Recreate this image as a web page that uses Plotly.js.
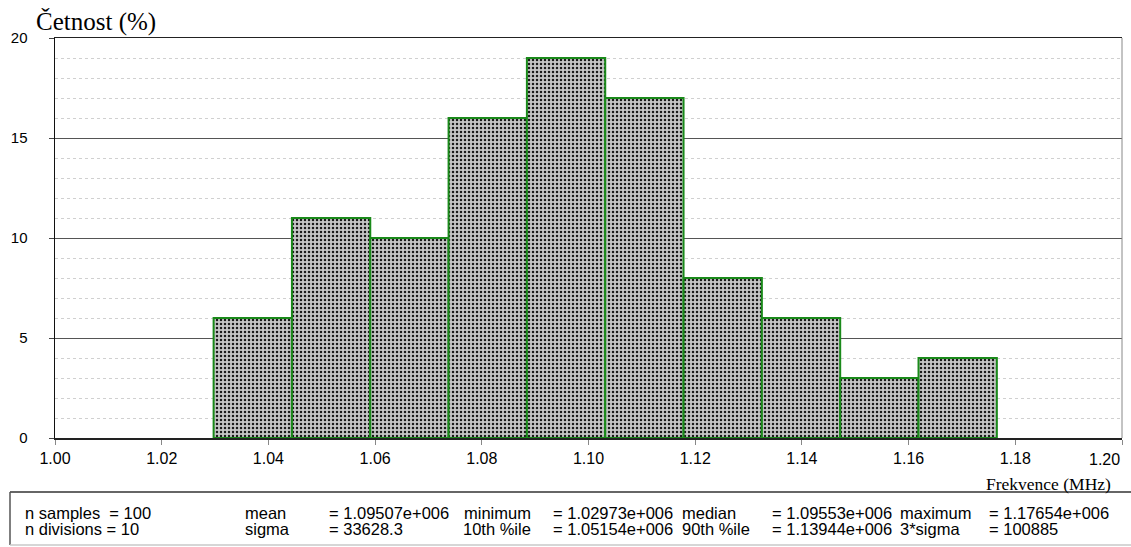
<!DOCTYPE html>
<html>
<head>
<meta charset="utf-8">
<script src="https://cdn.plot.ly/plotly-3.0.1.min.js"></script>
<style>html,body{margin:0;padding:0;background:#fff;}#chart{width:1131px;height:547px;}</style>
</head>
<body>
<div id="chart"></div>
<script>
// ---- data ----
const binMinimum = 1.02973;   // MHz
const binMaximum = 1.17654;   // MHz
const nDivisions = 10;
const percentages = [6, 11, 10, 16, 19, 17, 8, 6, 3, 4];
const xTickValues = [1.00, 1.02, 1.04, 1.06, 1.08, 1.10, 1.12, 1.14, 1.16, 1.18, 1.20];
const xTickLabels = ["1.00", "1.02", "1.04", "1.06", "1.08", "1.10", "1.12", "1.14", "1.16", "1.18", "1.20"];
const yTickValues = [0, 5, 10, 15, 20];
const statsLabelsA = ["n samples  = 100", "n divisions = 10"];
const statsNames1 = ["mean", "sigma"];
const statsValues1 = ["= 1.09507e+006", "= 33628.3"];
const statsNames2 = ["minimum", "10th %ile"];
const statsValues2 = ["= 1.02973e+006", "= 1.05154e+006"];
const statsNames3 = ["median", "90th %ile"];
const statsValues3 = ["= 1.09553e+006", "= 1.13944e+006"];
const statsNames4 = ["maximum", "3*sigma"];
const statsValues4 = ["= 1.17654e+006", "= 100885"];
const yTitle = "Četnost (%)";
const xTitle = "Frekvence (MHz)";

// ---- derived bin geometry ----
const binWidth = (binMaximum - binMinimum) / nDivisions;
const binCenters = percentages.map((_, i) => binMinimum + binWidth * (i + 0.5));

// ---- layout helpers (pixel -> paper) ----
const W = 1131, H = 547, ML = 55, MR = 9, MT = 38, MB = 109;
const PW = W - ML - MR, PH = H - MT - MB;
const px = p => (p - ML) / PW;
const py = p => (H - MB - p) / PH;

const sans = "Liberation Sans, Arial, sans-serif";
const serif = "Liberation Serif, Times New Roman, serif";

const trace = {
  type: "bar",
  x: binCenters,
  y: percentages,
  width: binCenters.map(() => binWidth),
  marker: {
    color: "#c0c0c0",
    pattern: {shape: ".", size: 4, solidity: 0.3, fgcolor: "#1a1a1a", bgcolor: "#c6c6c6", fillmode: "replace"},
    line: {color: "#1a8a1a", width: 2}
  },
  hoverinfo: "x+y"
};

const annotations = [];
function txt(text, x, y, anchor, font) {
  annotations.push({text: text, xref: "paper", yref: "paper", x: px(x), y: py(y),
    xanchor: anchor, yanchor: "middle", showarrow: false, font: font});
}
const sf = {family: sans, size: 16.5, color: "#000"};
const rowY = [512.5, 528.5];
for (let r = 0; r < 2; r++) {
  txt(statsLabelsA[r], 23, rowY[r], "left", sf);
  txt(statsNames1[r], 243, rowY[r], "left", sf);
  txt(statsValues1[r], 327, rowY[r], "left", sf);
  txt(statsNames2[r], 533, rowY[r], "right", sf);
  txt(statsValues2[r], 551, rowY[r], "left", sf);
  txt(statsNames3[r], 680, rowY[r], "left", sf);
  txt(statsValues3[r], 770, rowY[r], "left", sf);
  txt(statsNames4[r], 898, rowY[r], "left", sf);
  txt(statsValues4[r], 987, rowY[r], "left", sf);
}
// titles
txt(yTitle, 34, 22, "left", {family: serif, size: 25, color: "#000"});
txt(xTitle, 1113, 484, "right", {family: serif, size: 17.5, color: "#000"});
// last x tick label kept inside the window
annotations.push({text: xTickLabels[xTickLabels.length - 1], xref: "x", yref: "paper",
  x: xTickValues[xTickValues.length - 1], y: py(459), xanchor: "right", yanchor: "middle",
  showarrow: false, font: {family: sans, size: 16, color: "#000"}});

const shapes = [
  {type: "line", xref: "paper", yref: "paper", x0: 1, x1: 1, y0: 0, y1: 1, line: {color: "#888", width: 1}},
  {type: "line", xref: "paper", yref: "paper", x0: px(10), x1: px(1131), y0: py(492), y1: py(492), line: {color: "#333", width: 1.5}},
  {type: "line", xref: "paper", yref: "paper", x0: px(10), x1: px(10), y0: py(492), y1: py(545), line: {color: "#555", width: 1.5}},
  {type: "line", xref: "paper", yref: "paper", x0: px(10), x1: px(1131), y0: py(545), y1: py(545), line: {color: "#c8c8c8", width: 1.5}}
];

const layout = {
  width: W, height: H,
  margin: {l: ML, r: MR, t: MT, b: MB, pad: 0},
  paper_bgcolor: "#fff", plot_bgcolor: "#fff",
  showlegend: false,
  bargap: 0,
  xaxis: {
    range: [1.00, 1.20],
    tickmode: "array",
    tickvals: xTickValues,
    ticktext: xTickLabels.map((t, i) => i === xTickLabels.length - 1 ? "" : t),
    ticks: "outside", ticklen: 5, tickcolor: "#888", tickwidth: 1,
    showgrid: false, zeroline: false,
    showline: true, linecolor: "#222", linewidth: 1.5, mirror: true,
    tickfont: {family: sans, size: 16, color: "#000"},
    fixedrange: true
  },
  yaxis: {
    range: [0, 20],
    tickmode: "array",
    tickvals: yTickValues,
    ticks: "outside", ticklen: 5, tickcolor: "#444", tickwidth: 1,
    ticklabelstandoff: 18,
    showgrid: true, gridcolor: "#555", gridwidth: 1,
    minor: {dtick: 1, tick0: 0, showgrid: true, gridcolor: "#d0d0d0", griddash: "dot", gridwidth: 1, ticks: ""},
    zeroline: false,
    showline: true, linecolor: "#111", linewidth: 1.5,
    tickfont: {family: sans, size: 15, color: "#000"},
    fixedrange: true
  },
  annotations: annotations,
  shapes: shapes
};

Plotly.newPlot("chart", [trace], layout, {displayModeBar: false, staticPlot: true});
</script>
</body>
</html>
